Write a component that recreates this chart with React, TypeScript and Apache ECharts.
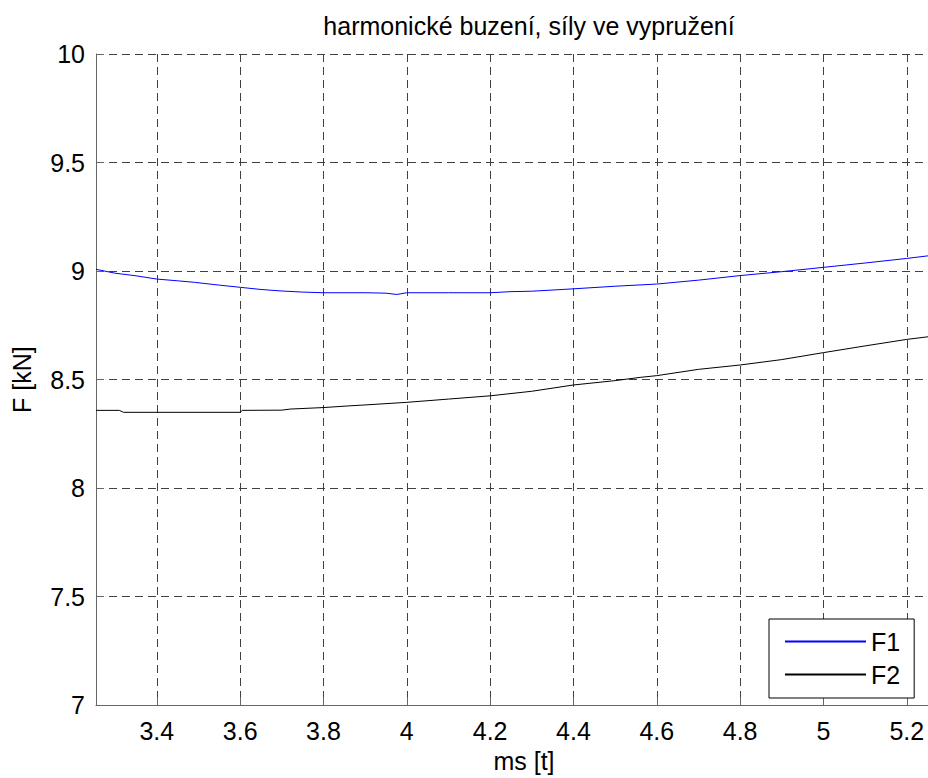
import React, { useEffect, useRef } from "react";
import * as echarts from "echarts";

const titleText = "harmonické buzení, síly ve vypružení";
const xName = "ms [t]";
const yName = "F [kN]";
const xTicks = [3.4, 3.6, 3.8, 4, 4.2, 4.4, 4.6, 4.8, 5, 5.2];

const f1X = [3.254, 3.3, 3.35, 3.4, 3.45, 3.49, 3.55, 3.6, 3.65, 3.7, 3.75, 3.8, 3.9, 3.95, 3.976, 4.0, 4.1, 4.2, 4.25, 4.3, 4.4, 4.5, 4.6, 4.7, 4.8, 4.9, 5.0, 5.1, 5.2, 5.251];
const f1Y = [9.008, 8.99, 8.978, 8.963, 8.955, 8.948, 8.935, 8.925, 8.915, 8.908, 8.903, 8.9, 8.9, 8.898, 8.892, 8.9, 8.9, 8.9, 8.905, 8.907, 8.918, 8.93, 8.94, 8.958, 8.979, 8.997, 9.017, 9.037, 9.058, 9.07];

const f2X = [3.254, 3.31, 3.32, 3.6, 3.605, 3.7, 3.72, 3.8, 3.864, 3.9, 4.0, 4.1, 4.2, 4.3, 4.4, 4.5, 4.56, 4.6, 4.7, 4.8, 4.9, 5.0, 5.1, 5.2, 5.251];
const f2Y = [8.358, 8.358, 8.349, 8.349, 8.358, 8.359, 8.364, 8.371, 8.379, 8.383, 8.395, 8.41, 8.425, 8.446, 8.475, 8.495, 8.51, 8.518, 8.547, 8.567, 8.592, 8.624, 8.655, 8.685, 8.697];

const FONT = "Liberation Sans, Arial, sans-serif";
const F1_COLOR = "#0000ff";
const F2_COLOR = "#000000";

export default function App() {
  const ref = useRef<HTMLDivElement>(null);
  useEffect(() => {
    document.body.style.margin = "0";
    const chart = echarts.init(ref.current!, null, { renderer: "svg" });
    const gridLine = { show: true, lineStyle: { color: "#404040", type: [8, 5], width: 1 } };
    chart.setOption({
      animation: false,
      backgroundColor: "#fff",
      textStyle: { fontFamily: FONT },
      title: {
        text: titleText,
        left: 524,
        top: 8,
        textAlign: "center",
        textStyle: { fontSize: 25, fontWeight: "normal", color: "#000", fontFamily: FONT },
      },
      grid: { left: 96, top: 54, right: 0, height: 654, containLabel: false },
      legend: {
        orient: "vertical",
        left: 769,
        top: 619,
        itemWidth: 81,
        itemHeight: 10,
        itemGap: 8,
        padding: [10, 14, 11, 15],
        backgroundColor: "#fff",
        borderColor: "#000",
        borderWidth: 1,
        borderRadius: 0,
        itemStyle: { opacity: 0 },
        textStyle: { fontSize: 25, color: "#000", fontFamily: FONT },
        data: ["F1", "F2"],
      },
      xAxis: {
        type: "value",
        min: 3.254,
        max: 5.251,
        name: xName,
        nameLocation: "middle",
        nameGap: 40,
        nameTextStyle: { fontSize: 25, color: "#000", fontFamily: FONT, padding: [0, 0, 0, 24] },
        axisLine: { show: true, lineStyle: { color: "#666", width: 1 } },
        axisTick: { show: true, inside: true, length: 8, customValues: xTicks, lineStyle: { color: "#666" } },
        axisLabel: { customValues: xTicks, fontSize: 25, color: "#000", margin: 13, fontFamily: FONT },
        splitLine: gridLine,
      },
      yAxis: {
        type: "value",
        min: 7,
        max: 10,
        interval: 0.5,
        name: yName,
        nameLocation: "middle",
        nameGap: 62,
        nameTextStyle: { fontSize: 25, color: "#000", fontFamily: FONT },
        axisLine: { show: true, lineStyle: { color: "#666", width: 1 } },
        axisTick: { show: true, inside: true, length: 8, lineStyle: { color: "#666" } },
        axisLabel: { fontSize: 25, color: "#000", margin: 11, fontFamily: FONT },
        splitLine: gridLine,
      },
      series: [
        {
          name: "F1",
          type: "line",
          showSymbol: false,
          symbol: "none",
          data: f1X.map((x, i) => [x, f1Y[i]]),
          lineStyle: { color: F1_COLOR, width: 1 },
          itemStyle: { color: F1_COLOR },
        },
        {
          name: "F2",
          type: "line",
          showSymbol: false,
          symbol: "none",
          data: f2X.map((x, i) => [x, f2Y[i]]),
          lineStyle: { color: F2_COLOR, width: 1 },
          itemStyle: { color: F2_COLOR },
        },
      ],
    });
    return () => chart.dispose();
  }, []);
  return <div ref={ref} style={{ width: 928, height: 778 }} />;
}
